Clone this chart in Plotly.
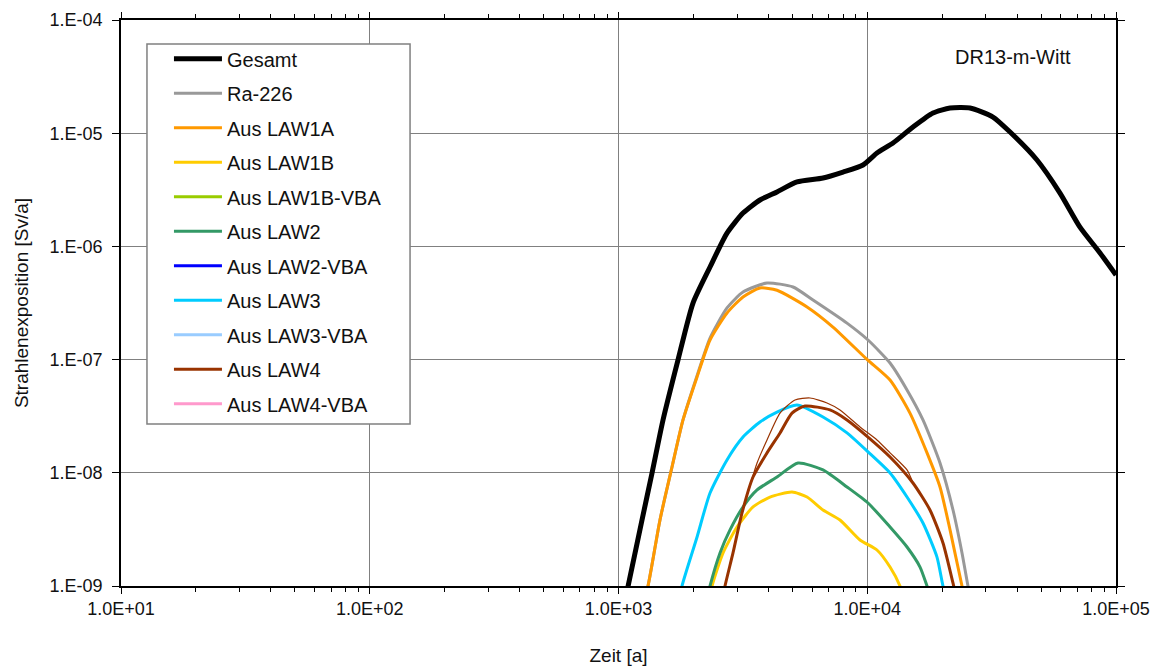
import plotly.graph_objects as go

# ---------------- data ----------------
gesamt_t = [1070, 1243, 1364, 1510, 1734, 1993, 2333, 2730, 3166, 3705, 4337, 5220, 6640,
            7990, 9615, 10940, 12690, 15270, 18370, 21520, 25880, 32020, 37500, 48120,
            59550, 71640, 86250, 100000]
gesamt_v = [8e-10, 3.83e-9, 9.96e-9, 2.93e-8, 9.9e-8, 3.16e-7, 6.58e-7, 1.31e-6, 1.97e-6,
            2.57e-6, 3.03e-6, 3.71e-6, 4.02e-6, 4.54e-6, 5.24e-6, 6.68e-6, 8.19e-6, 1.135e-5,
            1.51e-5, 1.67e-5, 1.67e-5, 1.39e-5, 1.025e-5, 5.8e-6, 2.96e-6, 1.48e-6, 8.75e-7,
            5.59e-7]

ra226_t = [1250, 1314, 1468, 1641, 1817, 2069, 2333, 2730, 3166, 3954, 5030, 6053, 8290,
           10070, 12350, 14450, 16750, 19610, 22120, 24040, 25410, 26000]
ra226_v = [7e-10, 1e-9, 3.83e-9, 1.125e-8, 2.93e-8, 7.2e-8, 1.55e-7, 2.86e-7, 3.95e-7,
           4.75e-7, 4.38e-7, 3.36e-7, 2.10e-7, 1.49e-7, 9.33e-8, 5.39e-8, 2.93e-8, 1.22e-8,
           4.69e-9, 1.96e-9, 1e-9, 8e-10]

law1a_t = [1250, 1314, 1468, 1641, 1817, 2069, 2333, 2730, 3166, 3705, 4337, 5727, 7280,
           10000, 12350, 14850, 17390, 19610, 21520, 24040, 25000]
law1a_v = [7e-10, 1e-9, 3.83e-9, 1.125e-8, 2.93e-8, 7.02e-8, 1.49e-7, 2.58e-7, 3.57e-7,
           4.29e-7, 4.1e-7, 2.92e-7, 1.94e-7, 1.0e-7, 6.6e-8, 3.37e-8, 1.5e-8, 7.5e-9,
           3.13e-9, 1e-9, 7e-10]

law1b_t = [2300, 2377, 2632, 2995, 3474, 4064, 4983, 5727, 6640, 7770, 9350, 10940, 12350,
           13540, 14000]
law1b_v = [7e-10, 1e-9, 1.96e-9, 3.32e-9, 4.99e-9, 6.11e-9, 6.76e-9, 6.11e-9, 4.69e-9,
           3.83e-9, 2.55e-9, 2.08e-9, 1.47e-9, 1e-9, 8e-10]

law1b_vba_t = [3000, 5000, 9000]
law1b_vba_v = [1e-10, 3e-10, 1e-10]

law2_t = [2250, 2333, 2559, 2808, 3166, 3606, 4337, 5268, 6640, 8290, 10070, 12350, 14450,
          16300, 17390, 18000]
law2_v = [7e-10, 1e-9, 1.96e-9, 3.13e-9, 4.99e-9, 7.05e-9, 9.18e-9, 1.22e-8, 1.06e-8,
          7.5e-9, 5.41e-9, 3.32e-9, 2.21e-9, 1.47e-9, 1e-9, 8e-10]

law2_vba_t = [3000, 5500, 10000]
law2_vba_v = [1e-10, 4e-10, 1e-10]

law3_t = [1750, 1800, 2069, 2333, 2730, 3166, 3705, 4337, 5220, 6640, 8290, 10070, 12350,
          14450, 16750, 19070, 20160, 20800]
law3_v = [7e-10, 1e-9, 2.71e-9, 6.63e-9, 1.30e-8, 2.07e-8, 2.81e-8, 3.44e-8, 3.97e-8,
          3.11e-8, 2.25e-8, 1.53e-8, 9.96e-9, 6.11e-9, 3.6e-9, 1.8e-9, 1e-9, 8e-10]

law3_vba_t = [3000, 5500, 10000]
law3_vba_v = [1e-10, 5e-10, 1e-10]

law4_t = [2600, 2680, 2886, 3137, 3474, 3954, 4460, 4983, 5620, 7080, 8290, 10070, 12350,
          15270, 17870, 20160, 22120, 22800]
law4_v = [7e-10, 1e-9, 1.96e-9, 4.42e-9, 9.18e-9, 1.50e-8, 2.25e-8, 3.37e-8, 3.89e-8,
          3.59e-8, 2.93e-8, 2.07e-8, 1.38e-8, 8.13e-9, 4.69e-9, 2.40e-9, 1.06e-9, 8e-10]

# second (thin) LAW4 curve drawn along the thick one
law4b_t = [3137, 3606, 3954, 4460, 5123, 5888, 6890, 7770, 9350, 10940, 12350, 14450, 15270]
law4b_v = [4.42e-9, 1.22e-8, 1.95e-8, 3.37e-8, 4.40e-8, 4.58e-8, 4.14e-8, 3.59e-8, 2.54e-8,
           1.95e-8, 1.50e-8, 1.06e-8, 8.13e-9]

law4_vba_t = [3000, 6000, 11000]
law4_vba_v = [1e-10, 5e-10, 1e-10]

x_ticks = [1e1, 1e2, 1e3, 1e4, 1e5]
x_ticktext = ["1.0E+01", "1.0E+02", "1.0E+03", "1.0E+04", "1.0E+05"]
y_ticks = [1e-9, 1e-8, 1e-7, 1e-6, 1e-5, 1e-4]
y_ticktext = ["1.E-09", "1.E-08", "1.E-07", "1.E-06", "1.E-05", "1.E-04"]
x_minor = [m * 10 ** e for e in range(1, 5) for m in range(2, 10)]

# ---------------- figure ----------------
series = [
    ("Gesamt", gesamt_t, gesamt_v, "#000000", 5),
    ("Ra-226", ra226_t, ra226_v, "#999999", 3),
    ("Aus LAW1A", law1a_t, law1a_v, "#FF9900", 3),
    ("Aus LAW1B", law1b_t, law1b_v, "#FFCC00", 3),
    ("Aus LAW1B-VBA", law1b_vba_t, law1b_vba_v, "#99CC00", 3),
    ("Aus LAW2", law2_t, law2_v, "#339966", 3),
    ("Aus LAW2-VBA", law2_vba_t, law2_vba_v, "#0000FF", 3),
    ("Aus LAW3", law3_t, law3_v, "#00CCFF", 3),
    ("Aus LAW3-VBA", law3_vba_t, law3_vba_v, "#99CCFF", 3),
    ("Aus LAW4", law4_t, law4_v, "#993300", 3),
    ("Aus LAW4-VBA", law4_vba_t, law4_vba_v, "#FF99CC", 3),
]

fig = go.Figure()
for i, (name, t, v, col, w) in enumerate(series):
    fig.add_trace(go.Scatter(x=t, y=v, mode="lines", name=name,
                             line=dict(color=col, width=w, shape="spline", smoothing=0.6),
                             legendgroup=name, zorder=10 if name == "Gesamt" else 0))
    if name == "Aus LAW4":
        fig.add_trace(go.Scatter(x=law4b_t, y=law4b_v, mode="lines", showlegend=False,
                                 legendgroup=name,
                                 line=dict(color=col, width=1.2, shape="spline", smoothing=0.6),
                                 hoverinfo="skip"))

fig.update_layout(
    width=1165, height=666,
    margin=dict(l=121, r=49, t=20, b=80),
    paper_bgcolor="white", plot_bgcolor="white",
    font=dict(family="Liberation Sans, Arial, sans-serif", size=17, color="#111111"),
    showlegend=True,
    legend=dict(x=0.0482, y=0.966, xanchor="left", yanchor="top",
                bgcolor="rgba(0,0,0,0)", borderwidth=0,
                font=dict(size=20, color="#111111"), traceorder="grouped",
                tracegroupgap=5.5, itemwidth=48),
    shapes=[dict(type="rect", xref="paper", yref="paper",
                 x0=0.0261, x1=0.2905, y0=0.2862, y1=0.9576,
                 fillcolor="white", line=dict(color="#808080", width=1.5), layer="above")],
    annotations=[dict(text="DR13-m-Witt", x=0.957, y=0.9346, xref="paper", yref="paper",
                      xanchor="right", yanchor="middle", showarrow=False,
                      font=dict(size=20, color="#111111"))],
)

fig.update_xaxes(
    type="log", range=[1, 5], automargin=False,
    tickvals=x_ticks, ticktext=x_ticktext,
    ticks="outside", ticklen=6, tickcolor="#000000",
    showgrid=True, gridcolor="#808080", gridwidth=1,
    showline=True, linecolor="#000000", linewidth=1.5, mirror="all",
    zeroline=False,
    minor=dict(tickvals=x_minor, ticks="outside", ticklen=4, tickcolor="#000000", showgrid=False),
    title=dict(text="Zeit [a]", standoff=34, font=dict(size=19)),
    tickfont=dict(size=18),
)
fig.update_yaxes(
    type="log", range=[-9, -4], automargin=False,
    tickvals=y_ticks, ticktext=y_ticktext,
    ticks="outside", ticklen=7, tickcolor="#000000", ticklabelstandoff=6,
    showgrid=True, gridcolor="#808080", gridwidth=1,
    showline=True, linecolor="#000000", linewidth=1.5, mirror="all",
    zeroline=False,
    title=dict(text="Strahlenexposition [Sv/a]", standoff=16, font=dict(size=19)),
    tickfont=dict(size=18),
)

fig.write_html("out.html", config={"displayModeBar": False},
               post_script="document.body.style.margin='0';")
